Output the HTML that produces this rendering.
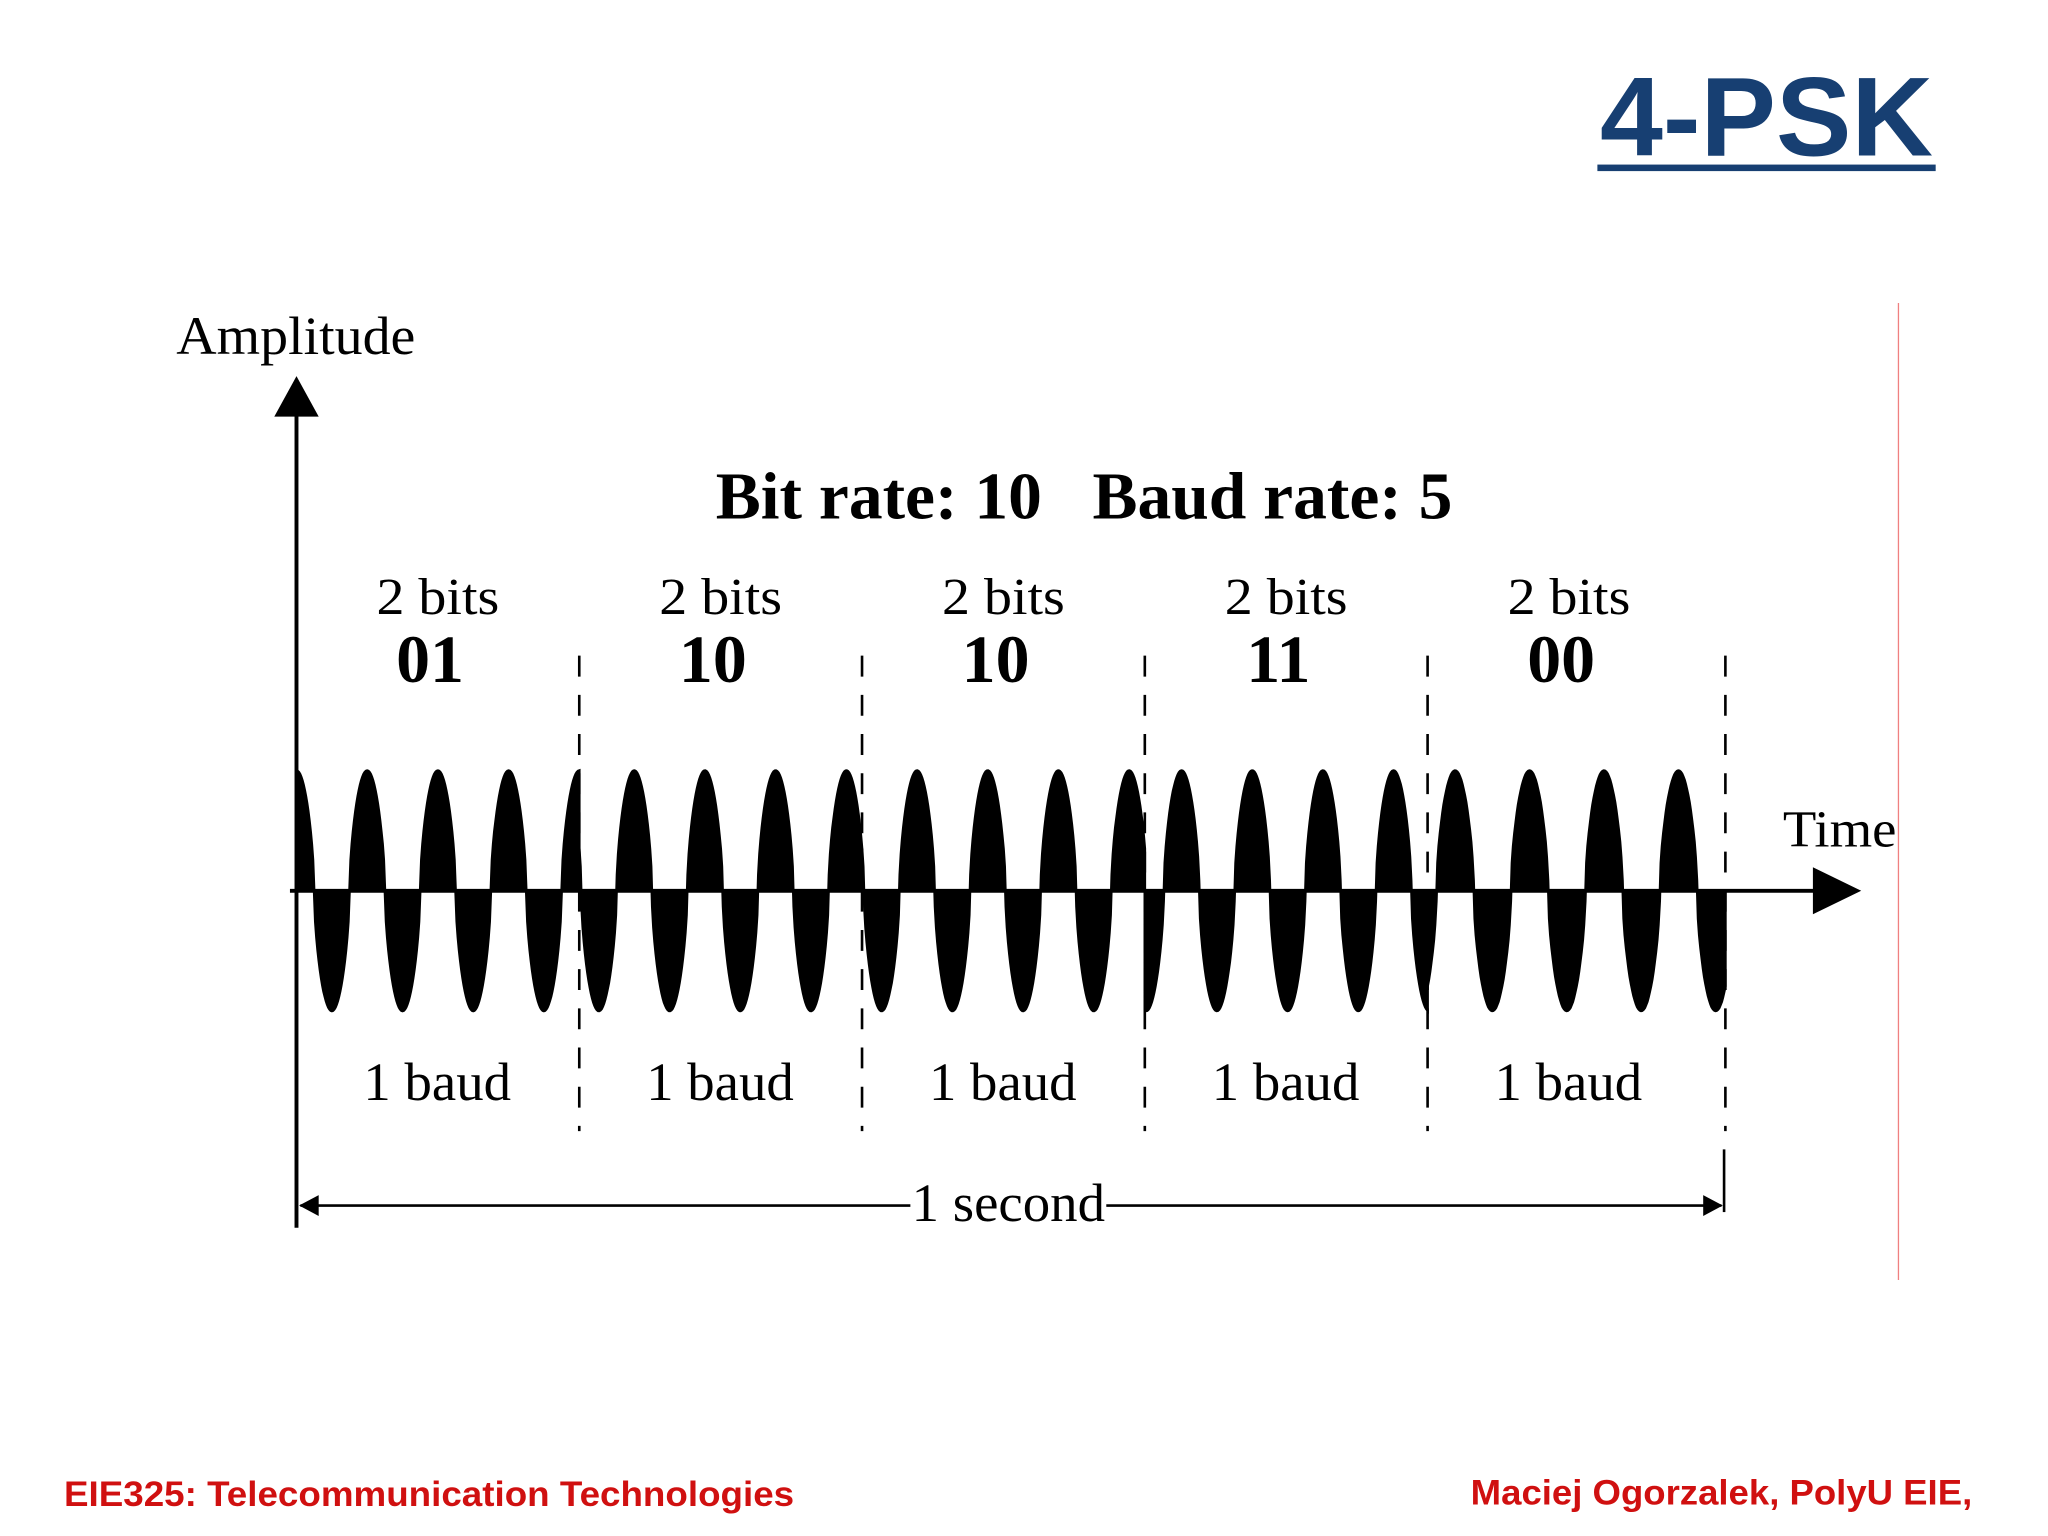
<!DOCTYPE html>
<html><head><meta charset="utf-8"><style>
html,body{margin:0;padding:0;background:#fff;}
svg{display:block;}
.serif{font-family:"Liberation Serif",serif;}
.sans{font-family:"Liberation Sans",sans-serif;}
</style></head><body>
<svg id="chart" width="2048" height="1536" viewBox="0 0 1568 1176" xmlns="http://www.w3.org/2000/svg">
  <text class="sans" x="1225" y="119" font-size="86" font-weight="bold" fill="#173f72" textLength="255" lengthAdjust="spacingAndGlyphs">4-PSK</text>
  <rect x="1223" y="126" width="259" height="5" fill="#173f72"/>
  <line x1="1453.5" y1="232" x2="1453.5" y2="980" stroke="#f08080" stroke-width="1"/>
  <text class="serif" x="135" y="271" font-size="41" textLength="183" lengthAdjust="spacingAndGlyphs">Amplitude</text>
  <text class="serif" x="1365" y="648" font-size="40" textLength="87" lengthAdjust="spacingAndGlyphs">Time</text>
  <text class="serif" x="548" y="397" font-size="51" font-weight="bold" textLength="564" lengthAdjust="spacingAndGlyphs" xml:space="preserve">Bit rate: 10   Baud rate: 5</text>
  <g id="wave"></g>
  <g id="ann"></g>
  <line x1="227" y1="310" x2="227" y2="940" stroke="#000" stroke-width="3"/>
  <polygon points="227,288 210,319 244,319" fill="#000"/>
  <line x1="222" y1="682" x2="1395" y2="682" stroke="#000" stroke-width="3"/>
  <polygon points="1425,682 1388,664 1388,700" fill="#000"/>
  <line x1="230" y1="923" x2="1318" y2="923" stroke="#000" stroke-width="2"/>
  <polygon points="229,923 244,915 244,931" fill="#000"/>
  <polygon points="1319,923 1304,915 1304,931" fill="#000"/>
  <line x1="1320" y1="880" x2="1320" y2="928" stroke="#000" stroke-width="2"/>
  <rect x="697" y="900" width="150" height="40" fill="#fff"/>
  <text class="serif" x="698" y="935" font-size="41" textLength="148" lengthAdjust="spacingAndGlyphs">1 second</text>
  <text class="sans" x="49" y="1153" font-size="27" font-weight="bold" fill="#d01010" textLength="559" lengthAdjust="spacingAndGlyphs">EIE325: Telecommunication Technologies</text>
  <text class="sans" x="1126" y="1152" font-size="27" font-weight="bold" fill="#d01010" textLength="384" lengthAdjust="spacingAndGlyphs">Maciej Ogorzalek, PolyU EIE,</text>
</svg>
<script>
const symbols = ["01", "10", "10", "11", "00"];
const phaseDelayDeg = [0, 280, 280, 187, 133];
const cyclesPerBaud = [4, 4, 4, 4, 4];
const amplitude = 1;

const NS = "http://www.w3.org/2000/svg";
const x0 = 227, xEnd = 1321, yMid = 682, ampPx = 92, baudW = 216.5;
const xScale = t => x0 + t * baudW;
const yScale = v => yMid - v * ampPx;
const shape = c => Math.sign(c) * Math.pow(Math.abs(c), 0.6);

const wave = document.getElementById("wave");
const ann = document.getElementById("ann");

symbols.forEach((s, i) => {
  const n = 240;
  const xa = xScale(i);
  const xb = (i === symbols.length - 1) ? xEnd : xScale(i + 1);
  let pts = [[xa, yMid]];
  for (let k = 0; k <= n; k++) {
    const u = k / n;
    const ph = 2 * Math.PI * (cyclesPerBaud[i] * u - phaseDelayDeg[i] / 360);
    pts.push([xa + u * (xb - xa), yScale(amplitude * shape(Math.cos(ph)))]);
  }
  pts.push([xb, yMid]);
  const p = document.createElementNS(NS, "polygon");
  p.setAttribute("points", pts.map(q => q[0].toFixed(1) + "," + q[1].toFixed(1)).join(" "));
  p.setAttribute("fill", "#000");
  p.setAttribute("stroke", "#000");
  p.setAttribute("stroke-width", "2");
  
  
  wave.appendChild(p);

  const cx = xScale(i + 0.5);
  const t1 = document.createElementNS(NS, "text");
  t1.setAttribute("x", cx - 47); t1.setAttribute("y", 470);
  t1.setAttribute("class", "serif"); t1.setAttribute("font-size", "40");
  t1.setAttribute("textLength", "94"); t1.setAttribute("lengthAdjust", "spacingAndGlyphs");
  t1.textContent = "2 bits";
  
  
  ann.appendChild(t1);

  const t2 = document.createElementNS(NS, "text");
  t2.setAttribute("x", cx - 6); t2.setAttribute("y", 522);
  t2.setAttribute("class", "serif"); t2.setAttribute("font-size", "52");
  t2.setAttribute("font-weight", "bold"); t2.setAttribute("text-anchor", "middle");
  t2.textContent = s;
  
  
  ann.appendChild(t2);

  const t3 = document.createElementNS(NS, "text");
  t3.setAttribute("x", cx - 57); t3.setAttribute("y", 842);
  t3.setAttribute("class", "serif"); t3.setAttribute("font-size", "41");
  t3.setAttribute("textLength", "113"); t3.setAttribute("lengthAdjust", "spacingAndGlyphs");
  t3.textContent = "1 baud";
  
  
  ann.appendChild(t3);

  const d = document.createElementNS(NS, "line");
  d.setAttribute("x1", xb); d.setAttribute("x2", xb);
  d.setAttribute("y1", 502); d.setAttribute("y2", 866);
  d.setAttribute("stroke", "#000"); d.setAttribute("stroke-width", "2");
  d.setAttribute("stroke-dasharray", "16,14");
  
  
  ann.appendChild(d);
});
</script>
</body></html>
